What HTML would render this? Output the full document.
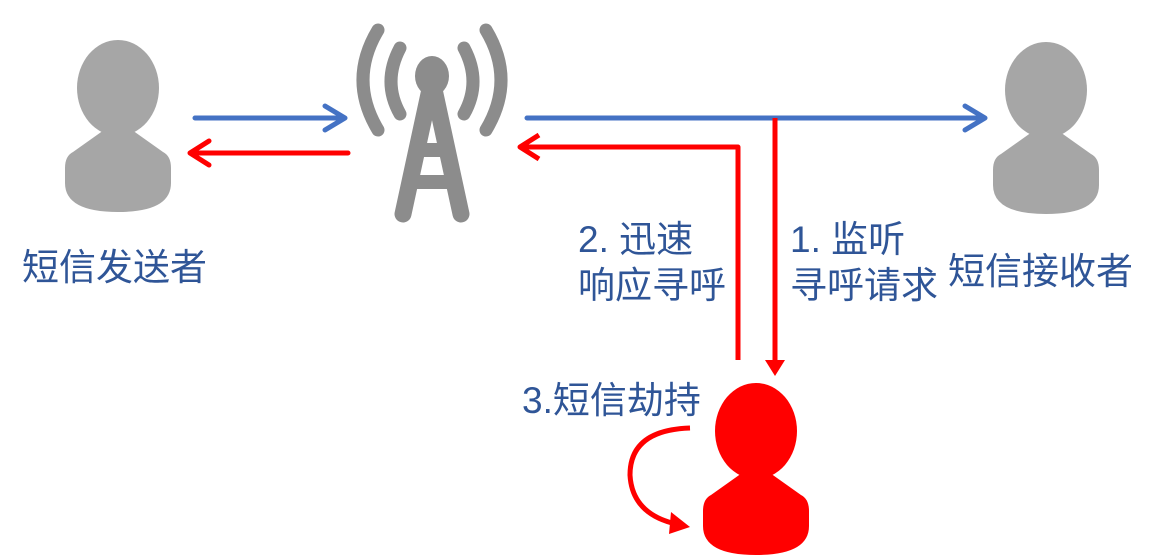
<!DOCTYPE html>
<html><head><meta charset="utf-8"><style>
body{margin:0;background:#fff;}
svg{display:block}
text{font-family:"Liberation Sans","Noto Sans CJK SC",sans-serif;fill:#2F5597;font-size:37px}
</style></head><body>
<svg width="1160" height="556" viewBox="0 0 1160 556" xmlns="http://www.w3.org/2000/svg">
<defs>
<g id="p">
<ellipse cx="0" cy="0" rx="41" ry="48"/>
<path d="M-14 42 L-45 64 Q-53 68 -53 80 L-53 95 Q-53 124 0 124 Q53 124 53 95 L53 80 Q53 68 45 64 L14 42 Z"/>
</g>
</defs>
<g fill="#a6a6a6"><use href="#p" x="118" y="88"/><use href="#p" x="1046" y="90"/></g>
<g fill="#ff0000"><use href="#p" x="756" y="431"/></g>
<g stroke="#8c8c8c" fill="none" stroke-linecap="round">
<path d="M378 30 Q348 80 378 130" stroke-width="13"/>
<path d="M400 48 Q382 82 400 114" stroke-width="13"/>
<path d="M486 30 Q516 80 486 130" stroke-width="13"/>
<path d="M464 48 Q482 82 464 114" stroke-width="13"/>
<path d="M432 80 L403 214 M432 80 L461 214" stroke-width="17"/>
<path d="M418 150 L446 150 M412 182 L452 182" stroke-width="14" stroke-linecap="butt"/>
</g>
<ellipse cx="432" cy="76" rx="17" ry="20" fill="#8c8c8c"/>
<g fill="none" stroke-width="5" stroke-linecap="round" stroke-linejoin="round">
<path d="M195 118 L345 118 M325 106 L345 118 L325 130" stroke="#4472C4"/>
<path d="M527 118 L985 118 M965 106 L985 118 L965 130" stroke="#4472C4"/>
<path d="M348 153 L190 153 M209 141 L190 153 L209 165" stroke="#ff0000"/>
<path d="M738 360 L738 147 L520 147 M539 135 L520 147 L539 159" stroke="#ff0000" stroke-linecap="butt"/>
<path d="M775 118 L775 365" stroke="#ff0000" stroke-linecap="butt"/>
<path d="M690 428 Q630 430 630 475 Q632 512 672 523" stroke="#ff0000" stroke-linecap="butt"/>
</g>
<polygon points="765,360 785,360 775,376" fill="#ff0000"/>
<polygon points="671,512 690,527 669,534" fill="#ff0000"/>
<text x="22" y="280">短信发送者</text>
<text x="948" y="284">短信接收者</text>
<text x="578" y="252">2. 迅速</text>
<text x="578" y="298">响应寻呼</text>
<text x="790" y="252">1. 监听</text>
<text x="790" y="298">寻呼请求</text>
<text x="522" y="413">3.短信劫持</text>
</svg>
</body></html>
